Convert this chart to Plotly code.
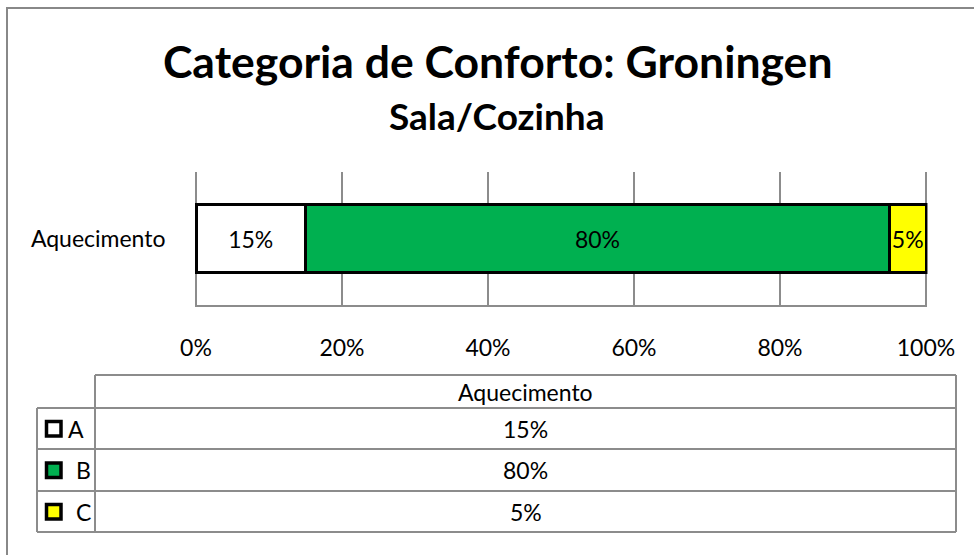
import plotly.graph_objects as go

# Comfort category shares for the living room / kitchen (Groningen)
categories = ["Aquecimento"]
series_names = ["A", "B", "C"]
series_values = [15, 80, 5]          # percent of hours
series_colors = ["#FFFFFF", "#00B050", "#FFFF00"]
tick_values = [0, 20, 40, 60, 80, 100]
tick_labels = ["0%", "20%", "40%", "60%", "80%", "100%"]

W, H = 974, 555
FONT = "Lato"
FS = 23
GRID = "#8C8C8C"


def px(x):
    return x / W


def py(y):
    return 1 - y / H


# small padding on the value range so the bar outlines are not clipped
PAD = 0.2
X0, X100 = 196, 926
unit = (X100 - X0) / 100

fig = go.Figure()
for name, val, col in zip(series_names, series_values, series_colors):
    fig.add_trace(go.Bar(
        y=categories, x=[val], name=name, orientation="h",
        marker=dict(color=col, line=dict(color="#000000", width=3)),
        text=[f"{val}%"], textposition="inside", insidetextanchor="middle",
        constraintext="none", textangle=0,
        textfont=dict(family=FONT, size=FS, color="#000000"),
        showlegend=False,
    ))

fig.update_layout(
    width=W, height=H,
    margin=dict(l=0, r=0, t=0, b=0, autoexpand=False),
    paper_bgcolor="#FFFFFF", plot_bgcolor="#FFFFFF",
    barmode="stack", bargap=0.49,
    font=dict(family=FONT, size=FS, color="#000000"),
    title=dict(
        text="<b>Categoria de Conforto: Groningen</b>",
        x=0.511, xanchor="center", y=py(62), yanchor="middle",
        font=dict(family=FONT, size=44.5, color="#000000"),
    ),
    xaxis=dict(
        domain=[px(X0 - PAD * unit), px(X100 + PAD * unit)], range=[-PAD, 100 + PAD],
        tickvals=tick_values, ticktext=tick_labels,
        showgrid=True, gridcolor=GRID, gridwidth=1.5,
        zeroline=False, showline=True, linecolor=GRID, linewidth=1.5,
        ticks="", ticklabelstandoff=22, automargin=False,
        tickfont=dict(family=FONT, size=FS, color="#000000"),
        fixedrange=True,
    ),
    yaxis=dict(
        domain=[py(305), py(172)],
        showgrid=False, zeroline=False, showline=False,
        ticks="", ticklabelstandoff=28, automargin=False,
        tickfont=dict(family=FONT, size=FS, color="#000000"),
        fixedrange=True,
    ),
)

shapes = []
annotations = []

# chart-area border
shapes.append(dict(type="rect", xref="paper", yref="paper",
                   x0=px(7), x1=1.05, y0=-0.05, y1=py(8),
                   line=dict(color="#888888", width=2), fillcolor="rgba(0,0,0,0)"))

# subtitle
annotations.append(dict(text="<b>Sala/Cozinha</b>", xref="paper", yref="paper",
                        x=px(497), y=py(115), xanchor="center", yanchor="middle",
                        showarrow=False, font=dict(family=FONT, size=37, color="#000000")))

# data table below the chart
tbl_left, tbl_key, tbl_right = 37, 95, 956
row_edges = [375, 408, 449, 491, 532]
line_style = dict(color="#8C8C8C", width=2)


def hline(x0, x1, y):
    shapes.append(dict(type="line", xref="paper", yref="paper",
                       x0=px(x0), x1=px(x1), y0=py(y), y1=py(y), line=line_style))


def vline(x, y0, y1):
    shapes.append(dict(type="line", xref="paper", yref="paper",
                       x0=px(x), x1=px(x), y0=py(y0), y1=py(y1), line=line_style))


hline(tbl_key, tbl_right, row_edges[0])
for y in row_edges[1:]:
    hline(tbl_left, tbl_right, y)
vline(tbl_left, row_edges[1], row_edges[-1])
vline(tbl_key, row_edges[0], row_edges[-1])
vline(tbl_right, row_edges[0], row_edges[-1])

col_center = (tbl_key + tbl_right) / 2
annotations.append(dict(text=categories[0], xref="paper", yref="paper",
                        x=px(col_center), y=py((row_edges[0] + row_edges[1]) / 2),
                        xanchor="center", yanchor="middle", showarrow=False,
                        font=dict(family=FONT, size=FS, color="#000000")))

label_x = [66, 74, 74]
for i, (name, val, col) in enumerate(zip(series_names, series_values, series_colors)):
    yc = (row_edges[i + 1] + row_edges[i + 2]) / 2
    # legend key
    shapes.append(dict(type="rect", xref="paper", yref="paper",
                       x0=px(46.5), x1=px(61), y0=py(yc + 7.5), y1=py(yc - 7),
                       line=dict(color="#000000", width=3.5), fillcolor=col))
    annotations.append(dict(text=name, xref="paper", yref="paper",
                            x=px(label_x[i]), y=py(yc), xanchor="left", yanchor="middle",
                            showarrow=False, font=dict(family=FONT, size=FS, color="#000000")))
    annotations.append(dict(text=f"{val}%", xref="paper", yref="paper",
                            x=px(col_center), y=py(yc), xanchor="center", yanchor="middle",
                            showarrow=False, font=dict(family=FONT, size=FS, color="#000000")))

fig.update_layout(shapes=shapes, annotations=annotations)
fig.write_html("out.html")
